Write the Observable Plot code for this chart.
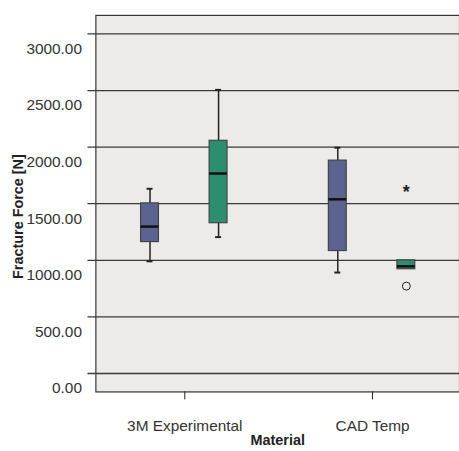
<!DOCTYPE html>
<html>
<head>
<meta charset="utf-8">
<script src="https://cdn.jsdelivr.net/npm/d3@7"></script>
<script src="https://cdn.jsdelivr.net/npm/@observablehq/plot@0.6"></script>
<style>
  html, body { margin: 0; padding: 0; background: #fff; }
  #chart { width: 459px; height: 451px; overflow: hidden; }
</style>
</head>
<body>
<div id="chart"></div>
<script>
// Data
const materials = ["3M Experimental", "3M Experimental", "CAD Temp", "CAD Temp"];
const groups = ["A", "B", "A", "B"];
const whiskerLow = [991, 1205, 892, 921];
const q1 = [1161, 1328, 1082, 921];
const median = [1298, 1767, 1539, 947];
const q3 = [1503, 2056, 1881, 1000];
const whiskerHigh = [1632, 2506, 1995, 1000];

const outlierMaterial = ["CAD Temp"];
const outlierGroup = ["B"];
const outlierValue = [772];
const extremeMaterial = ["CAD Temp"];
const extremeGroup = ["B"];
const extremeValue = [1632];

const categories = ["3M Experimental", "CAD Temp"];
const yTicks = [0, 500, 1000, 1500, 2000, 2500, 3000];

const groupColor = {A: "#5b6390", B: "#2a8e6f"};
const groupShift = {A: -35, B: 34};

const boxes = materials.map((m, i) => ({
  material: m, group: groups[i], lo: whiskerLow[i], q1: q1[i],
  med: median[i], q3: q3[i], hi: whiskerHigh[i]
}));
const outliers = outlierValue.map((v, i) => ({material: outlierMaterial[i], group: outlierGroup[i], value: v}));
const extremes = extremeValue.map((v, i) => ({material: extremeMaterial[i], group: extremeGroup[i], value: v}));

const marks = [
  Plot.frame({fill: "#ecebe9", stroke: "#333", strokeWidth: 1.2}),
  Plot.ruleY(yTicks, {stroke: "#3a3a3a", strokeWidth: 1.3, insetLeft: -8}),
  Plot.text(yTicks, {y: d => d, text: d => d.toFixed(2), frameAnchor: "left", textAnchor: "end", dx: -14, dy: 15, fill: "#333", fontSize: 15.5}),
  Plot.text(["Fracture Force [N]"], {text: d => d, frameAnchor: "left", textAnchor: "middle", lineAnchor: "middle", rotate: -90, dx: -78, dy: 13, fontWeight: "bold", fontSize: 14.5, fill: "#222"}),
  Plot.text(["Material"], {text: d => d, frameAnchor: "bottom", lineAnchor: "middle", dy: 49, fontWeight: "bold", fontSize: 14.5, fill: "#222"})
];

for (const g of ["A", "B"]) {
  const data = boxes.filter(d => d.group === g);
  const dx = groupShift[g];
  marks.push(
    Plot.ruleX(data.filter(d => d.hi > d.q3), {x: "material", y1: "q3", y2: "hi", dx, stroke: "#222", strokeWidth: 1.5}),
    Plot.ruleX(data.filter(d => d.lo < d.q1), {x: "material", y1: "lo", y2: "q1", dx, stroke: "#222", strokeWidth: 1.5}),
    Plot.tickY(data.filter(d => d.hi > d.q3), {x: "material", y: "hi", dx, insetLeft: 91.5, insetRight: 91.5, stroke: "#222", strokeWidth: 2}),
    Plot.tickY(data.filter(d => d.lo < d.q1), {x: "material", y: "lo", dx, insetLeft: 91.5, insetRight: 91.5, stroke: "#222", strokeWidth: 2}),
    Plot.barY(data, {x: "material", y1: "q1", y2: "q3", dx, insetLeft: 85.5, insetRight: 85.5, fill: groupColor[g], stroke: "#444", strokeWidth: 1.2}),
    Plot.tickY(data, {x: "material", y: "med", dx, insetLeft: 85.5, insetRight: 85.5, stroke: "#111", strokeWidth: 2.5}),
    Plot.dot(outliers.filter(d => d.group === g), {x: "material", y: "value", dx, r: 4, stroke: "#222", fill: "none", strokeWidth: 1}),
    Plot.text(extremes.filter(d => d.group === g), {x: "material", y: "value", dx, text: () => "*", fontSize: 18, fontWeight: "bold", dy: 4, fill: "#222"})
  );
}

marks.push(Plot.axisX({tickSize: 8, tickPadding: 20, fontSize: 15.5, fill: "#333", label: null, stroke: "#222"}));

const chart = Plot.plot({
  width: 462,
  height: 451,
  marginLeft: 96,
  marginRight: 0,
  marginTop: 15,
  marginBottom: 57,
  style: {fontFamily: "'Liberation Sans', Arial, sans-serif", background: "#fff"},
  x: {domain: categories, range: [90.5, 468.5], padding: 0},
  y: {domain: [-163, 3164], axis: null},
  marks
});
document.getElementById("chart").appendChild(chart);
</script>
</body>
</html>
